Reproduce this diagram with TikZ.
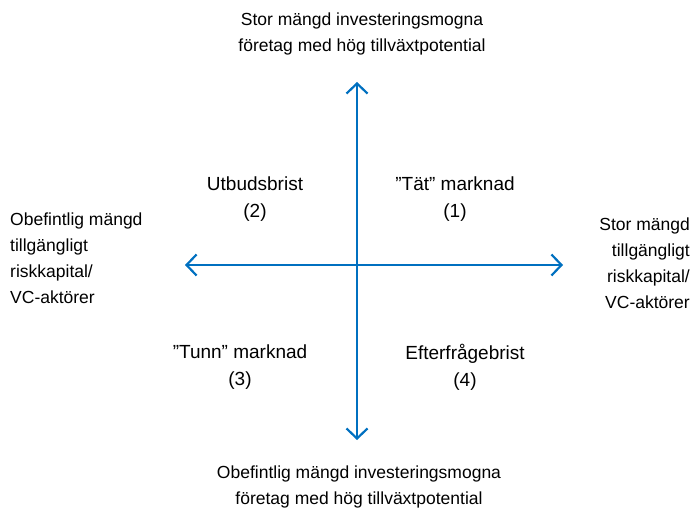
\documentclass[tikz,border=0pt]{standalone}
\usepackage{fontspec}
\setmainfont{Liberation Sans}
\usetikzlibrary{arrows.meta}
\definecolor{axblue}{RGB}{0,112,192}
\begin{document}
\begin{tikzpicture}[x=1pt,y=-1pt,
  axis/.style={draw=axblue,line width=2.2pt,{Straight Barb[length=10pt,width=21pt,line width=2.2pt]}-{Straight Barb[length=10pt,width=21pt,line width=2.2pt]}},
  lab/.style={inner sep=0pt,align=center,font=\fontsize{17.5}{26}\selectfont},
  quad/.style={inner sep=0pt,align=center,font=\fontsize{19}{27}\selectfont},
  side/.style={inner sep=0pt,font=\fontsize{17.5}{26}\selectfont}]
\useasboundingbox (0,0) rectangle (695,510);
\coordinate (top) at (357,82);
\coordinate (bot) at (357,440);
\coordinate (lft) at (185,265);
\coordinate (rgt) at (563,265);
\draw[axis] (bot) -- (top);
\draw[axis] (lft) -- (rgt);
\node[lab] (tt) at (362,34) {Stor mängd investeringsmogna\\företag med hög tillväxtpotential};
\node[lab] (bt) at (359,487) {Obefintlig mängd investeringsmogna\\företag med hög tillväxtpotential};
\node[quad] (q2) at (255,199) {Utbudsbrist\\(2)};
\node[quad] (q1) at (455,199) {”Tät” marknad\\(1)};
\node[quad] (q3) at (240,367) {”Tunn” marknad\\(3)};
\node[quad] (q4) at (465,367) {Efterfrågebrist\\(4)};
\node[side,align=left,anchor=west] (lt) at (10,258) {Obefintlig mängd\\tillgängligt\\riskkapital/\\VC-aktörer};
\node[side,align=right,anchor=east] (rt) at (690,263) {Stor mängd\\tillgängligt\\riskkapital/\\VC-aktörer};
\end{tikzpicture}
\end{document}
